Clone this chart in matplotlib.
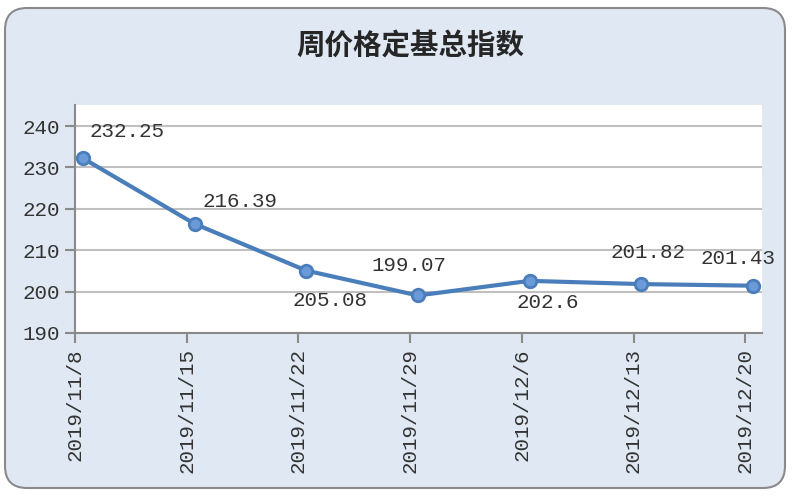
import matplotlib
matplotlib.use('Agg')
import matplotlib.pyplot as plt
import numpy as np
from matplotlib.patches import FancyBboxPatch
from matplotlib.transforms import IdentityTransform

# ---- data ----
title = '周价格定基总指数'
dates = ['2019/11/8', '2019/11/15', '2019/11/22', '2019/11/29',
         '2019/12/6', '2019/12/13', '2019/12/20']
values = [232.25, 216.39, 205.08, 199.07, 202.6, 201.82, 201.43]
y_ticks = [190, 200, 210, 220, 230, 240]

# label offsets (pixels) relative to each point: style only
label_offsets = [(44, 27), (45, 22), (24, -30), (-9, 30), (18, -22), (7, 32), (-15, 27)]

mono = 'Liberation Mono'
fig = plt.figure(figsize=(8, 5), dpi=100)
fig.patch.set_facecolor('white')

bg = FancyBboxPatch((5, 12), 780, 480, boxstyle='round,pad=0,rounding_size=22',
                    transform=IdentityTransform(), facecolor='#DFE8F3',
                    edgecolor='#8A8A8A', linewidth=1.5, zorder=0)
fig.add_artist(bg)

ax = fig.add_axes([75/800, 1-333/500, (762-75)/800, (333-105)/500])
ax.set_facecolor('white')

x = np.arange(len(values))
ax.plot(x, values, color='#4A7EBB', linewidth=3, marker='o', markersize=9,
        markerfacecolor='#6A9BD8', markeredgecolor='#4A7EBB', markeredgewidth=2,
        zorder=3, clip_on=False)

for xi, v, off in zip(x, values, label_offsets):
    ax.annotate(f'{v}', (xi, v), xytext=off, textcoords='offset pixels',
                ha='center', va='center', fontsize=15, family=mono, color='#333333',
                zorder=4)

shift = 0.07
ax.set_xticks(x - shift)
ax.set_xticklabels(dates, rotation=90, family=mono, fontsize=15, color='#333333')
ax.set_xlim(-shift, -shift + (762-75)/111.7)
ax.set_ylim(190, 245.1)
ax.set_yticks(y_ticks)
ax.set_yticklabels([str(t) for t in y_ticks], family=mono, fontsize=15, color='#333333')

ax.grid(axis='y', color='#C0C0C0', linewidth=1.5)
ax.set_axisbelow(True)
for s in ['top', 'right']:
    ax.spines[s].set_visible(False)
for s in ['left', 'bottom']:
    ax.spines[s].set_color('#8A8A8A')
    ax.spines[s].set_linewidth(1.5)
ax.tick_params(axis='y', length=7, width=1.5, color='#8A8A8A', pad=4)
ax.tick_params(axis='x', length=7, width=1.5, color='#8A8A8A', pad=4)

fig.text(410/800, 1-47/500, title, ha='center', va='center', fontsize=20.5,
         family=['Noto Sans CJK SC', 'DejaVu Sans'], weight='bold', color='#262626')

fig.savefig('out.png', dpi=100)
